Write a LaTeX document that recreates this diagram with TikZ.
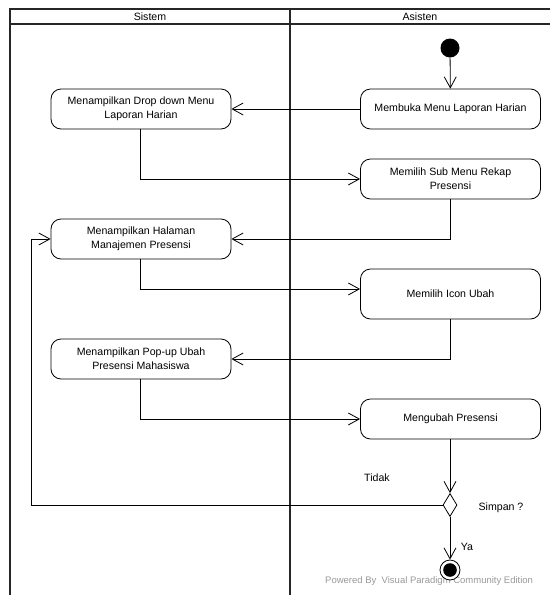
\documentclass[tikz,border=0pt]{standalone}
\usepackage{fontspec}
\setmainfont{Liberation Sans}
\usetikzlibrary{arrows.meta,shapes.geometric}
\tikzset{
  act/.style={draw, rounded corners=10pt, minimum width=180pt, minimum height=40pt, align=center, inner sep=2pt, font=\fontsize{10.6}{14}\selectfont, line width=0.8pt},
  arr/.style={line width=0.8pt, -{Straight Barb[length=11pt,width=12pt,line width=0.8pt]}},
  conn/.style={line width=0.8pt},
  lane/.style={line width=1.6pt, black!85},
  lbl/.style={font=\fontsize{10.6}{13}\selectfont, inner sep=0pt},
  decis/.style={draw, diamond, minimum width=14pt, minimum height=23pt, inner sep=0pt, line width=0.8pt},
}
\begin{document}
\begin{tikzpicture}[x=1pt, y=-1pt]
\useasboundingbox (0,0) rectangle (550,595);
% swimlane frame
\draw[lane] (550,9) -- (10,9) -- (10,600);
\draw[lane] (10,24) -- (550,24);
\draw[lane] (290,9) -- (290,600);
\node[lbl] (hs) at (150,16.5) {Sistem};
\node[lbl] (ha) at (420,16.5) {Asisten};
% watermark
\node[lbl, text=black!40, anchor=west, font=\fontsize{9.5}{11}\selectfont] (wm) at (325,581) {Powered By\ \ Visual Paradigm Community Edition};
% nodes
\node[circle, fill=black, minimum size=19pt, inner sep=0pt] (init) at (450,48) {};
\node[act] (memb) at (450.5,109) {Membuka Menu Laporan Harian};
\node[act] (drop) at (141,109) {Menampilkan Drop down Menu\\Laporan Harian};
\node[act] (sub) at (450.5,179) {Memilih Sub Menu Rekap\\Presensi};
\node[act] (hal) at (141,239) {Menampilkan Halaman\\Manajemen Presensi};
\node[act, minimum height=50pt] (icon) at (450.5,294) {Memilih Icon Ubah};
\node[act] (pop) at (141,359) {Menampilkan Pop-up Ubah\\Presensi Mahasiswa};
\node[act] (meng) at (450.5,419) {Mengubah Presensi};
\node[decis] (dec) at (450,505) {};
\node[circle, draw, fill=white, minimum size=20pt, inner sep=0pt, line width=0.8pt] (fin) at (450,570) {};
\fill (fin.center) circle (6.8pt);
\coordinate (loopx) at (31,0);
% connectors
\draw[arr] (init) -- (memb);
\draw[arr] (memb) -- (drop);
\draw[arr] (drop.south -| 140.7,0) |- (sub.west);
\draw[arr] (sub.south -| 450,0) |- (hal.east);
\draw[arr] (hal.south -| 140.7,0) |- ([yshift=5pt]icon.west);
\draw[arr] (icon.south -| 450,0) |- (pop.east);
\draw[arr] (pop.south -| 140.7,0) |- (meng.west);
\draw[arr] (meng.south -| 450,0) -- (dec.north);
\draw[arr] (dec.west) -- (dec.west -| loopx) |- (hal.west);
\draw[arr] (dec.south) -- (fin.north);
% labels
\node[lbl] (tidak) at (377,478) {Tidak};
\node[lbl] (simpan) at (501,508) {Simpan ?};
\node[lbl] (ya) at (467,547) {Ya};
\end{tikzpicture}
\end{document}
